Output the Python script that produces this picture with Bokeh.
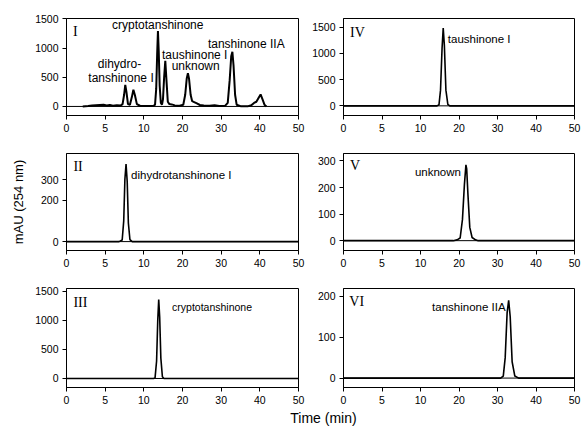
import numpy as np
from bokeh.plotting import figure
from bokeh.layouts import row, column
from bokeh.models import Range1d, FixedTicker, Span, Label
from bokeh.embed import file_html
from bokeh.resources import INLINE

# ---------------- data ----------------
x_tick_times = [0, 5, 10, 20, 30, 40, 50]
x_tick_labels = ["0", "5", "10", "20", "30", "40", "50"]

# Panel I: crude extract chromatogram
t1 = [2.1, 2.8, 3.3, 3.8, 4.3, 4.8, 5.2, 5.6, 6.0, 6.5, 7.0, 7.25, 7.45, 7.6, 7.75, 7.95,
      8.2, 8.45, 8.65, 8.85, 9.1, 9.5, 10.5, 11.5, 12.5, 12.9, 13.2, 13.45, 13.65, 13.85,
      14.1, 14.4, 14.7, 14.95, 15.25, 15.55, 15.85, 16.2, 16.6, 17.2, 18, 19, 20.2, 20.7,
      21.1, 21.4, 21.7, 22.1, 22.5, 23.0, 23.6, 24.5, 25.5, 27, 28.3, 29.5, 31, 31.7, 32.2,
      32.6, 32.9, 33.2, 33.6, 34, 35, 37, 37.8, 38.5, 39.1, 39.7, 40.2, 40.7, 41.2, 41.7]
y1 = [0, 8, 15, 20, 25, 30, 18, 25, 12, 20, 15, 40, 200, 370, 250, 40,
      30, 160, 285, 190, 40, 12, 8, 8, 10, 30, 300, 900, 1290, 950,
      350, 60, 30, 120, 500, 780, 450, 80, 40, 35, 18, 10, 30, 200,
      480, 570, 470, 200, 90, 75, 55, 25, 15, 10, 20, 8, 10, 60, 450,
      860, 935, 700, 200, 30, 5, 5, 20, 60, 80, 150, 205, 120, 30, 0]

# Panel II: dihydrotanshinone I
t2 = [0, 6.8, 7.2, 7.4, 7.55, 7.7, 7.85, 8.0, 8.2, 8.5, 50]
y2 = [0, 0, 8, 100, 300, 375, 290, 90, 10, 0, 0]

# Panel III: cryptotanshinone
t3 = [0, 12.5, 12.9, 13.3, 13.6, 13.85, 14.1, 14.4, 14.8, 15.2, 50]
y3 = [0, 0, 10, 300, 1000, 1355, 1050, 350, 30, 0, 0]

# Panel IV: taushinone I
t4 = [0, 14.3, 14.8, 15.2, 15.6, 15.9, 16.2, 16.6, 17.1, 17.6, 50]
y4 = [0, 0, 20, 300, 1100, 1485, 1150, 300, 30, 0, 0]

# Panel V: unknown
t5 = [0, 18.5, 19.5, 20.3, 20.9, 21.4, 21.8, 22.0, 22.3, 22.8, 23.4, 24.3, 25, 50]
y5 = [0, 0, 3, 10, 80, 210, 285, 270, 180, 50, 12, 3, 0, 0]

# Panel VI: tanshinone IIA
t6 = [0, 30.8, 31.5, 32.0, 32.5, 32.9, 33.3, 33.8, 34.5, 35.5, 50]
y6 = [0, 0, 5, 50, 160, 190, 150, 40, 5, 0, 0]

SANS = "Liberation Sans"
SERIF = "Liberation Serif"


def warp(t):
    """Broken time axis: 0-10 min at 5 min per division, 10-50 min at 10 min per division."""
    t = np.asarray(t, dtype=float)
    return np.where(t <= 10, t / 5.0, 2.0 + (t - 10.0) / 10.0)


def panel(width, height, bl, br, bt, bb, yr, yticks, t, y, lw, numeral, num_pos, notes, note_size):
    p = figure(width=width, height=height, x_range=Range1d(0, 6), y_range=Range1d(*yr),
               toolbar_location=None, output_backend="svg",
               min_border_left=bl, min_border_right=br, min_border_top=bt, min_border_bottom=bb)
    p.background_fill_color = "white"
    p.border_fill_color = "white"
    p.outline_line_color = "black"
    p.outline_line_width = 1
    p.xgrid.visible = False
    p.ygrid.visible = False
    xt = [float(v) for v in warp(x_tick_times)]
    p.xaxis.ticker = FixedTicker(ticks=xt)
    p.xaxis.major_label_overrides = {v: lbl for v, lbl in zip(xt, x_tick_labels)}
    p.yaxis.ticker = FixedTicker(ticks=yticks)
    for ax in (p.xaxis[0], p.yaxis[0]):
        ax.axis_line_color = "black"
        ax.axis_line_width = 1
        ax.major_tick_line_color = "black"
        ax.major_tick_in = 0
        ax.major_tick_out = 4
        ax.minor_tick_line_color = None
        ax.major_label_text_font = SANS
        ax.major_label_text_font_size = "10.5px"
        ax.major_label_text_color = "black"
        ax.major_label_standoff = 4
    p.add_layout(Span(location=0, dimension="width", line_color="black", line_width=1))
    p.line(warp(t), y, line_color="black", line_width=lw)
    p.add_layout(Label(x=float(warp(num_pos[0])), y=num_pos[1], text=numeral,
                       text_font=SERIF, text_font_size="14px", text_color="black",
                       text_align="left", text_baseline="middle"))
    for txt, tx, ty, al in notes:
        p.add_layout(Label(x=float(warp(tx)), y=ty, text=txt, text_font=SANS,
                           text_font_size=note_size, text_color="black",
                           text_align=al, text_baseline="middle"))
    return p


LW, RW = 305, 279
p1 = panel(LW, 140, 66, 7, 18, 25, (-155, 1505), [0, 500, 1000, 1500], t1, y1, 2.0,
           "I", (0.85, 1285),
           [("cryptotanshinone", 13.6, 1387, "center"),
            ("dihydro-", 6.85, 718, "center"),
            ("tanshinone I", 7.05, 488, "center"),
            ("taushinone I", 14.7, 875, "left"),
            ("unknown", 23.4, 690, "center"),
            ("tanshinone IIA", 36.5, 1075, "center")], "12px")
p2 = panel(LW, 135, 66, 7, 13, 25, (-43, 426), [0, 200, 300], t2, y2, 1.6,
           "II", (0.9, 365),
           [("dihydrotanshinone I", 8.35, 324, "left")], "11.5px")
p2.yaxis.axis_label = "mAU (254 nm)"
p2.yaxis.axis_label_text_font = SANS
p2.yaxis.axis_label_text_font_size = "13px"
p2.yaxis.axis_label_text_font_style = "normal"
p2.yaxis.axis_label_text_color = "black"
p2.yaxis.axis_label_standoff = 12
p3 = panel(LW, 133, 66, 7, 13, 21, (-155, 1546), [0, 500, 1000, 1500], t3, y3, 1.6,
           "III", (0.9, 1302),
           [("cryptotanshinone", 17.3, 1234, "left")], "10.5px")
p4 = panel(RW, 140, 38, 10, 18, 25, (-184, 1667), [0, 500, 1000, 1500], t4, y4, 1.6,
           "IV", (0.85, 1397),
           [("taushinone I", 17.1, 1283, "left")], "11.5px")
p5 = panel(RW, 135, 38, 10, 13, 25, (-37, 328), [0, 100, 200, 300], t5, y5, 1.6,
           "V", (0.85, 284),
           [("unknown", 20.5, 258, "right")], "11.5px")
p6 = panel(RW, 133, 38, 10, 13, 21, (-23, 219), [0, 100, 200], t6, y6, 1.6,
           "VI", (0.75, 187),
           [("tanshinone IIA", 32.1, 174, "right")], "11.5px")

strip = figure(width=584, height=18, x_range=Range1d(0, 584), y_range=Range1d(0, 18),
               toolbar_location=None, output_backend="svg", x_axis_type=None, y_axis_type=None,
               min_border=0)
strip.outline_line_color = None
strip.background_fill_color = "white"
strip.border_fill_color = "white"
strip.add_layout(Label(x=323, y=9, text="Time (min)", text_font=SANS, text_font_size="14px",
                       text_color="black", text_align="center", text_baseline="middle"))

layout = column(row(p1, p4), row(p2, p5), row(p3, p6), strip)
open("out.html", "w").write(file_html(layout, INLINE))
